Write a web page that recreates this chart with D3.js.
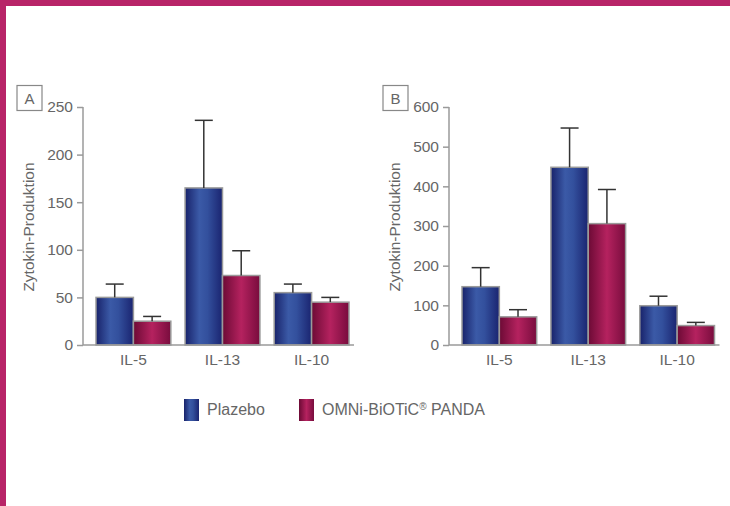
<!DOCTYPE html>
<html lang="de">
<head>
<meta charset="UTF-8">
<title>Zytokin-Produktion</title>
<script src="https://d3js.org/d3.v7.min.js"></script>
<style>
  html, body { margin: 0; padding: 0; background: #fff; }
  svg { display: block; font-family: "Liberation Sans", Arial, sans-serif; }
</style>
</head>
<body>
<script>
// categories and series
const categories = ["IL-5", "IL-13", "IL-10"];
const seriesNames = ["Plazebo", "OMNi-BiOTiC® PANDA"];

// panel A values (mean) and error bar heights
const plazeboA = [50, 165, 55];
const plazeboErrA = [14, 71, 9];
const pandaA = [25, 73, 45];
const pandaErrA = [5, 26, 5];

// panel B
const plazeboB = [147, 448, 99];
const plazeboErrB = [48, 99, 24];
const pandaB = [71, 306, 49];
const pandaErrB = [18, 86, 8];

const ticksA = [0, 50, 100, 150, 200, 250];
const ticksB = [0, 100, 200, 300, 400, 500, 600];

const W = 730, H = 506;
const svg = d3.select("body").append("svg")
    .attr("width", W)
    .attr("height", H);

// gradients for bars
const defs = svg.append("defs");
function grad(id, stops) {
    const g = defs.append("linearGradient")
        .attr("id", id)
        .attr("x1", 0).attr("x2", 1).attr("y1", 0).attr("y2", 0);
    stops.forEach(s => g.append("stop").attr("offset", s[0]).attr("stop-color", s[1]));
}
grad("gBlue", [[0, "#18226a"], [0.38, "#3b5aa7"], [0.6, "#33509d"], [1, "#1a2470"]]);
grad("gRed", [[0, "#6c0a35"], [0.5, "#b5225f"], [1, "#780c3d"]]);
const fills = ["url(#gBlue)", "url(#gRed)"];

// magenta frame
svg.append("rect").attr("x", 0).attr("y", 0).attr("width", W).attr("height", 6).attr("fill", "#b82468");
svg.append("rect").attr("x", 0).attr("y", 0).attr("width", 6).attr("height", H).attr("fill", "#b82468");

const textColor = "#666";
const axisColor = "#9a9a9a";
const yTop = 107, yBottom = 345;

function panel(opts) {
    const { x0, x1, letter, ticks, max, vals, errs } = opts;
    const g = svg.append("g");

    const y = d3.scaleLinear().domain([0, max]).range([yBottom, yTop]);
    const x = d3.scaleBand().domain(categories)
        .range([x0 + 13, x1 - 5])
        .paddingInner(0.16).paddingOuter(0);
    const xs = d3.scaleBand().domain([0, 1]).range([0, x.bandwidth()]).padding(0);

    // y axis
    const yAxis = g.append("g")
        .attr("transform", `translate(${x0},0)`)
        .call(d3.axisLeft(y).tickValues(ticks).tickSize(6).tickPadding(4));
    yAxis.select(".domain").remove();
    yAxis.selectAll(".tick line").attr("stroke", axisColor).attr("stroke-width", 1.5);
    yAxis.selectAll(".tick text")
        .attr("fill", textColor)
        .style("font-size", "15.5px")
        .style("font-family", "Liberation Sans, Arial, sans-serif");
    g.append("line")
        .attr("x1", x0).attr("x2", x0)
        .attr("y1", y(max)).attr("y2", yBottom)
        .attr("stroke", axisColor).attr("stroke-width", 1.5);

    // bars
    const groups = g.selectAll("g.grp")
        .data(categories)
        .join("g")
        .attr("class", "grp")
        .attr("transform", d => `translate(${x(d)},0)`);

    [0, 1].forEach(s => {
        groups.append("rect")
            .attr("x", xs(s))
            .attr("y", (d, i) => y(vals[s][i]))
            .attr("width", xs.bandwidth())
            .attr("height", (d, i) => yBottom - y(vals[s][i]))
            .attr("fill", fills[s])
            .attr("stroke", "#9a9a9a")
            .attr("stroke-width", 1.5);

        // error bars
        const cx = xs(s) + xs.bandwidth() / 2;
        groups.append("line")
            .attr("x1", cx).attr("x2", cx)
            .attr("y1", (d, i) => y(vals[s][i]))
            .attr("y2", (d, i) => y(vals[s][i] + errs[s][i]))
            .attr("stroke", "#333").attr("stroke-width", 1.5);
        groups.append("line")
            .attr("x1", cx - 9).attr("x2", cx + 9)
            .attr("y1", (d, i) => y(vals[s][i] + errs[s][i]))
            .attr("y2", (d, i) => y(vals[s][i] + errs[s][i]))
            .attr("stroke", "#333").attr("stroke-width", 1.5);
    });

    // x axis baseline
    g.append("line")
        .attr("x1", x0).attr("x2", x1)
        .attr("y1", yBottom).attr("y2", yBottom)
        .attr("stroke", axisColor).attr("stroke-width", 1.5);
    g.selectAll("text.cat")
        .data(categories)
        .join("text")
        .attr("class", "cat")
        .attr("x", d => x(d) + x.bandwidth() / 2)
        .attr("y", 365)
        .attr("text-anchor", "middle")
        .attr("fill", textColor)
        .style("font-size", "15.5px")
        .text(d => d);

    // y label
    g.append("text")
        .attr("transform", `translate(${x0 - 49},227) rotate(-90)`)
        .attr("text-anchor", "middle")
        .attr("fill", textColor)
        .style("font-size", "15.5px")
        .text("Zytokin-Produktion");

    // panel letter box
    const bx = x0 - 66;
    g.append("rect")
        .attr("x", bx).attr("y", 85.5)
        .attr("width", 25).attr("height", 25)
        .attr("fill", "none").attr("stroke", "#888").attr("stroke-width", 1.2);
    g.append("text")
        .attr("x", bx + 12.5).attr("y", 103.5)
        .attr("text-anchor", "middle")
        .attr("fill", textColor)
        .style("font-size", "15px")
        .text(letter);
}

panel({
    x0: 83, x1: 354, letter: "A", ticks: ticksA, max: 250,
    vals: [plazeboA, pandaA], errs: [plazeboErrA, pandaErrA]
});
panel({
    x0: 449, x1: 719.5, letter: "B", ticks: ticksB, max: 600,
    vals: [plazeboB, pandaB], errs: [plazeboErrB, pandaErrB]
});

// legend
const legendX = [184, 299];
const legend = svg.append("g");
seriesNames.forEach((name, i) => {
    legend.append("rect")
        .attr("x", legendX[i]).attr("y", 399)
        .attr("width", 15).attr("height", 22)
        .attr("fill", fills[i]);
    const t = legend.append("text")
        .attr("x", legendX[i] + 23).attr("y", 415)
        .attr("fill", textColor)
        .style("font-size", "16px");
    if (name.includes("®")) {
        const parts = name.split("®");
        t.append("tspan").text(parts[0]);
        t.append("tspan").attr("dy", -5).style("font-size", "10px").text("®");
        t.append("tspan").attr("dy", 5).text(parts[1]);
    } else {
        t.text(name);
    }
});
</script>
</body>
</html>
